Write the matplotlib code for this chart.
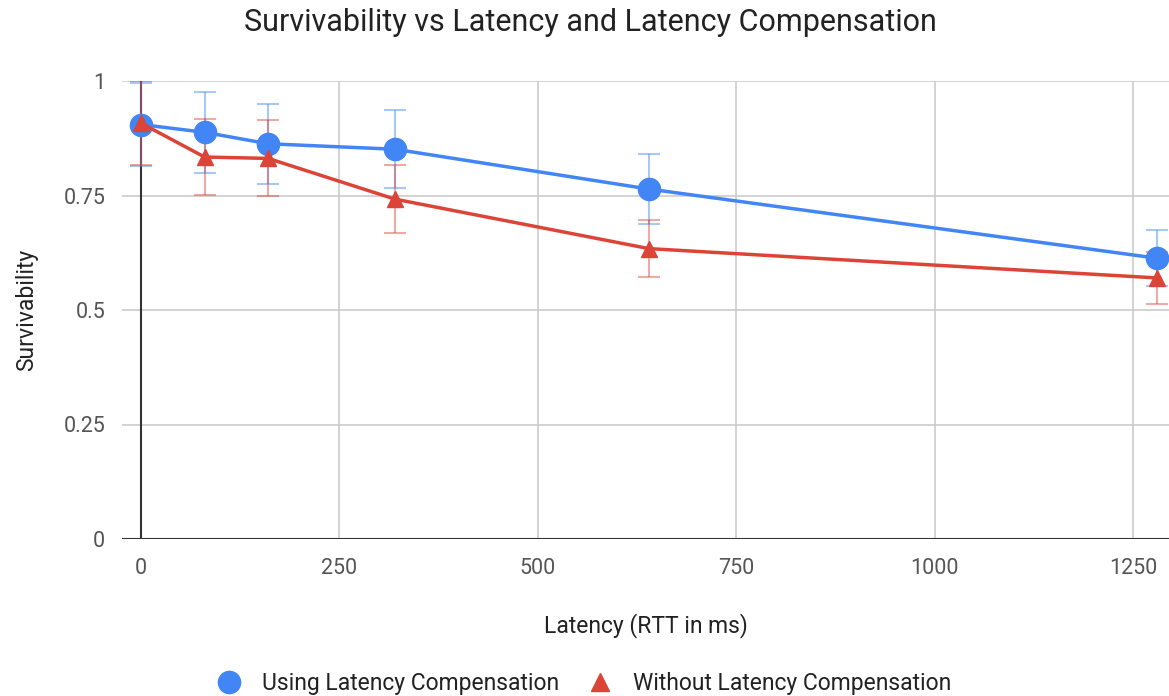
import matplotlib
matplotlib.use("Agg")
import matplotlib.pyplot as plt
from matplotlib.lines import Line2D

plt.rcParams['font.family'] = ['Roboto', 'DejaVu Sans']

latency = [0, 80, 160, 320, 640, 1280]
using_lc = [0.905, 0.888, 0.863, 0.851, 0.764, 0.613]
using_lc_err = [0.09, 0.089, 0.087, 0.085, 0.077, 0.061]
without_lc = [0.908, 0.834, 0.831, 0.742, 0.634, 0.570]
without_lc_err = [0.091, 0.083, 0.083, 0.074, 0.063, 0.057]

xticks = [0, 250, 500, 750, 1000, 1250]
yticks = [0, 0.25, 0.5, 0.75, 1]
ytick_labels = ["0", "0.25", "0.5", "0.75", "1"]

BLUE = "#4285F4"
RED = "#DB4437"

fig = plt.figure(figsize=(11.69, 6.96), dpi=100)
ax = fig.add_axes([122/1169, 1 - 539/696, 1 - 122/1169, (539 - 81)/696])

ax.set_xlim(-24, 1295)
ax.set_ylim(0, 1)

ax.set_xticks(xticks)
ax.set_yticks(yticks)
ax.set_yticklabels(ytick_labels)
ax.grid(True, color="#cccccc", linewidth=1.2)
ax.set_axisbelow(True)
for s in ax.spines.values():
    s.set_visible(False)
ax.tick_params(length=0, labelsize=15.5, labelcolor="#555555")
ax.tick_params(axis='y', pad=12)
ax.tick_params(axis='x', pad=14)

ax.axhline(0, color="#333333", linewidth=1.5, zorder=1.5)
ax.axvline(0, color="#333333", linewidth=1.5, zorder=1.5)

ax.errorbar(latency, using_lc, yerr=using_lc_err, fmt='none', ecolor=BLUE,
            alpha=0.45, elinewidth=1.5, capsize=8, capthick=1.5, zorder=3)
ax.errorbar(latency, without_lc, yerr=without_lc_err, fmt='none', ecolor=RED,
            alpha=0.45, elinewidth=1.5, capsize=8, capthick=1.5, zorder=3)

ax.plot(latency, using_lc, color=BLUE, linewidth=2.5, marker='o', markersize=16, zorder=4)
ax.plot(latency, without_lc, color=RED, linewidth=2.5, marker='^', markersize=12, zorder=5)

ax.set_xlabel("Latency (RTT in ms)", fontsize=16.5, color="#222222", labelpad=24)
ax.set_ylabel("Survivability", fontsize=16.5, color="#222222", labelpad=18)

fig.text(0.505, 0.967, "Survivability vs Latency and Latency Compensation",
         ha='center', va='center', fontsize=22, color="#222222")

handles = [Line2D([], [], color=BLUE, marker='o', linestyle='none', markersize=16),
           Line2D([], [], color=RED, marker='^', linestyle='none', markersize=13)]
fig.legend(handles, ["Using Latency Compensation", "Without Latency Compensation"],
           loc='center', bbox_to_anchor=(0.497, 0.018), ncol=2, frameon=False,
           fontsize=16.5, handletextpad=0.65, handlelength=1.6, columnspacing=1.0,
           labelcolor="#222222")

fig.savefig("out.png", dpi=100)
